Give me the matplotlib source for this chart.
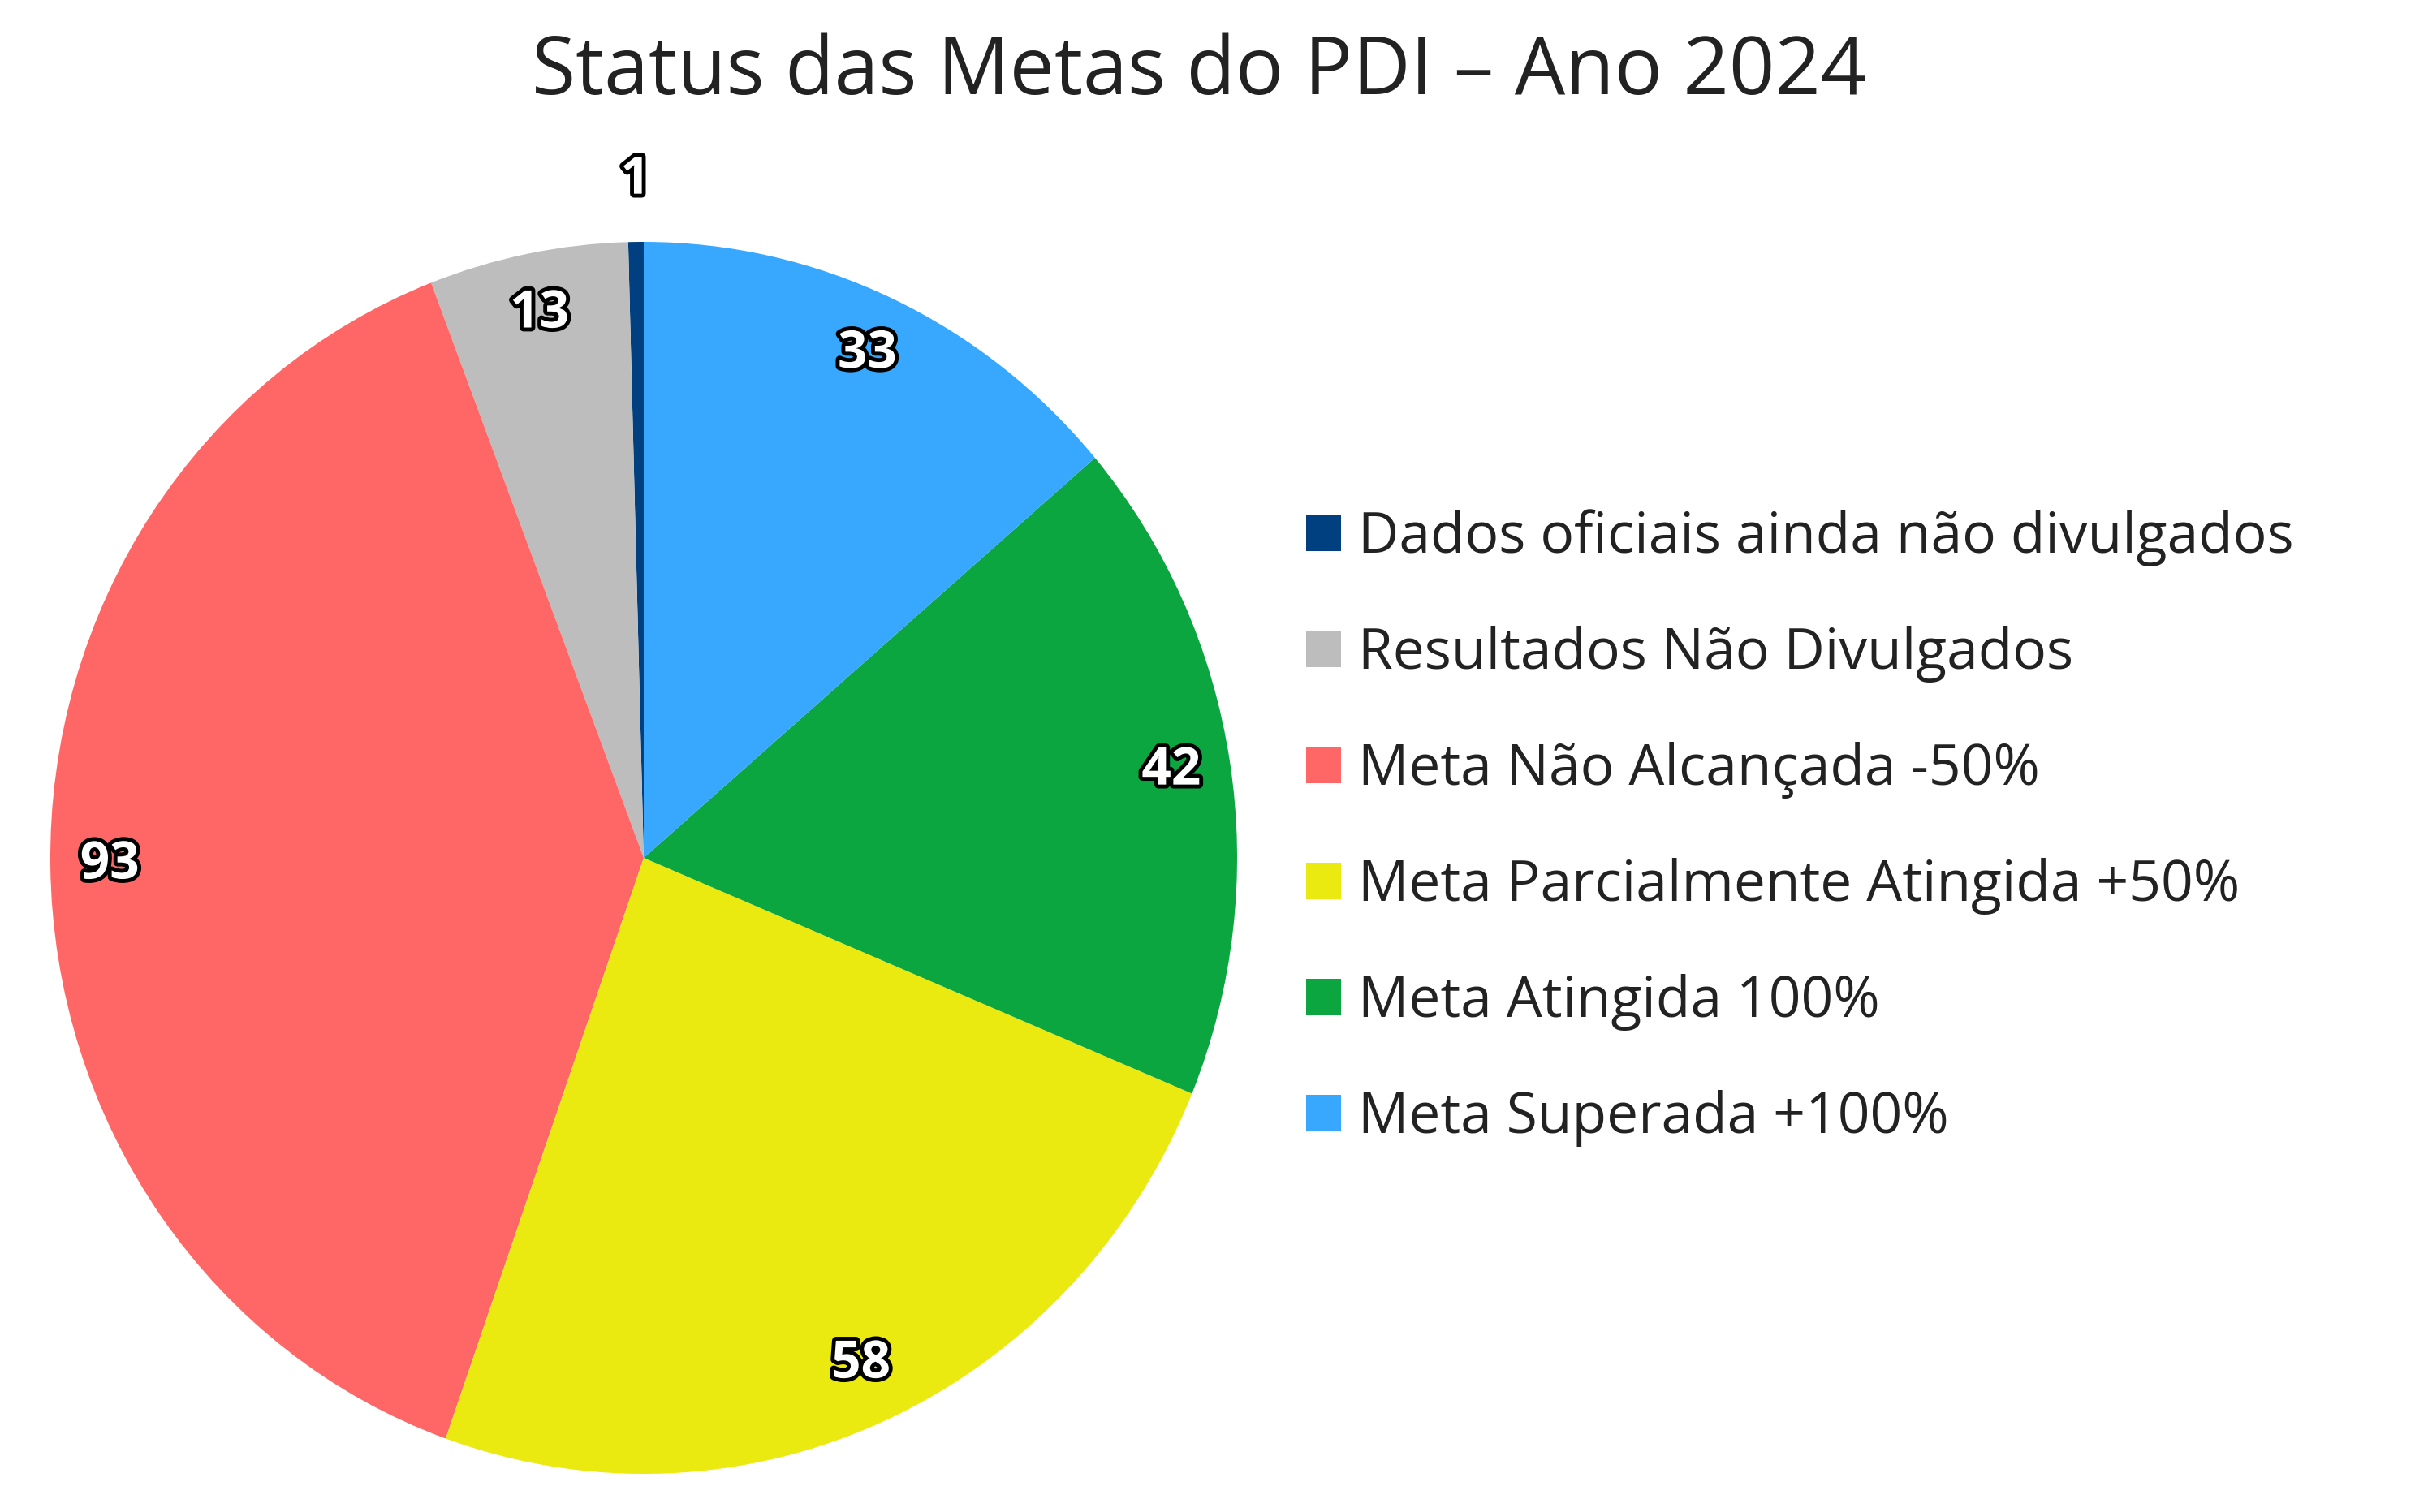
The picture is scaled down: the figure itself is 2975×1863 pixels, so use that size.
import matplotlib
matplotlib.use("Agg")
import matplotlib.pyplot as plt
import matplotlib.patheffects as pe
from matplotlib.patches import Patch
import numpy as np

plt.rcParams['font.family'] = ['Open Sans', 'DejaVu Sans']

categories = [
    "Dados oficiais ainda não divulgados",
    "Resultados Não Divulgados",
    "Meta Não Alcançada -50%",
    "Meta Parcialmente Atingida +50%",
    "Meta Atingida 100%",
    "Meta Superada +100%",
]
values = [1, 13, 93, 58, 42, 33]
colors = ["#004080", "#BDBDBD", "#FF6666", "#EAEA10", "#0BA63F", "#38A8FF"]
title = "Status das Metas do PDI – Ano 2024"

W, H = 2975, 1863
fig = plt.figure(figsize=(W / 100, H / 100), dpi=100)
fig.patch.set_facecolor("white")

cx, cy, rx, ry = 793, 1057, 731, 759
ax = fig.add_axes([(cx - rx) / W, (H - cy - ry) / H, 2 * rx / W, 2 * ry / H])
wedges, _ = ax.pie(values, colors=colors, startangle=90, counterclock=True,
                   radius=1, wedgeprops=dict(linewidth=0))
ax.set_aspect('auto')
ax.set_xlim(-1, 1)
ax.set_ylim(-1, 1)
ax.axis('off')

for w, v in zip(wedges, values):
    ang = np.deg2rad((w.theta1 + w.theta2) / 2)
    d = 1.1 if v < 5 else 0.9
    t = ax.text(d * np.cos(ang), d * np.sin(ang), str(v), ha='center', va='center',
                fontsize=46, color='white', fontweight='bold')
    t.set_path_effects([pe.withStroke(linewidth=7, foreground='black')])

fig.text(1477 / W, 1 - 90 / H, title, ha='center', va='center', fontsize=71, color='#222222')

handles = [Patch(facecolor=c, edgecolor='none') for c in colors]
fig.legend(handles, categories, loc='center left', bbox_to_anchor=(1574 / W, 1 - 1020 / H),
           frameon=False, fontsize=50, handlelength=0.62, handleheight=0.62,
           handletextpad=0.3, labelspacing=1.05, labelcolor='#222222', borderpad=0)

fig.savefig("out.png", dpi=100, facecolor="white")
